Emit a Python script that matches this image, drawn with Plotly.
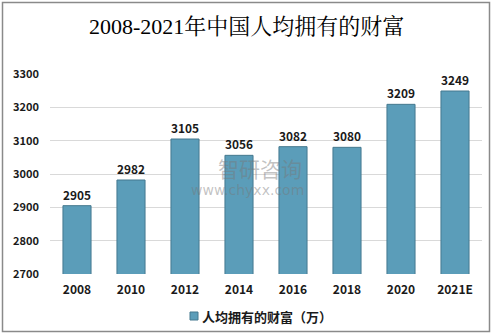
import plotly.graph_objects as go

categories = ["2008", "2010", "2012", "2014", "2016", "2018", "2020", "2021E"]
values = [2905, 2982, 3105, 3056, 3082, 3080, 3209, 3249]
series_name = "人均拥有的财富（万）"
title_text = "2008-2021年中国人均拥有的财富"
y_ticks = [2700, 2800, 2900, 3000, 3100, 3200, 3300]

W, H = 493, 335
L, R, T, B = 50, 11, 74, 61
pw, ph = W - L - R, H - T - B

def px(x):
    return (x - L) / pw

def py(y):
    return (H - B - y) / ph

font_cjk = "Noto Sans CJK SC, Microsoft YaHei, sans-serif"
bar_color = "#5b9db9"
bar_line = "#45798f"

fig = go.Figure()
fig.add_trace(go.Bar(
    x=categories, y=values, name=series_name,
    marker=dict(color=bar_color, line=dict(color=bar_line, width=1)),
    text=[str(v) for v in values], textposition="outside",
    textfont=dict(family=font_cjk, size=12, color="#1a1a1a", weight="bold"),
    cliponaxis=False,
    showlegend=False,
))

fig.update_layout(
    width=W, height=H,
    margin=dict(l=L, r=R, t=T, b=B, autoexpand=False),
    paper_bgcolor="white", plot_bgcolor="white",
    bargap=0.48,
    showlegend=False,
    xaxis=dict(showgrid=False, showline=False, ticks="", ticklabelstandoff=7,
               tickfont=dict(family=font_cjk, size=12, color="#1a1a1a", weight="bold")),
    yaxis=dict(range=[2700, 3300], tickvals=y_ticks, showgrid=True, gridcolor="#d9d9d9",
               gridwidth=1, zeroline=False, showline=False, ticks="", ticklabelstandoff=10,
               tickfont=dict(family=font_cjk, size=11, color="#1a1a1a", weight="bold")),
    font=dict(family=font_cjk),
)

fig.add_annotation(text=title_text, xref="paper", yref="paper", x=px(246), y=py(27),
                   xanchor="center", yanchor="middle", showarrow=False,
                   font=dict(family="Liberation Serif, Noto Serif CJK SC, Noto Sans CJK SC, serif",
                             size=22, color="#000000"))

# legend (drawn manually to match the small square key)
fig.add_shape(type="rect", xref="paper", yref="paper",
              x0=px(190), x1=px(198), y0=py(320), y1=py(312),
              fillcolor=bar_color, line=dict(color=bar_line, width=1))
fig.add_annotation(text=series_name, xref="paper", yref="paper", x=px(200), y=py(316),
                   xanchor="left", yanchor="middle", showarrow=False,
                   font=dict(family=font_cjk, size=13, color="#1a1a1a", weight="bold"))

# watermark
fig.add_annotation(text="智研咨询", xref="paper", yref="paper", x=px(260), y=py(168),
                   xanchor="center", yanchor="middle", showarrow=False,
                   font=dict(family=font_cjk, size=21, color="rgba(120,120,120,0.45)"))
fig.add_annotation(text="www.chyxx.com", xref="paper", yref="paper", x=px(247), y=py(190),
                   xanchor="center", yanchor="middle", showarrow=False,
                   font=dict(family="DejaVu Sans, sans-serif", size=14, color="rgba(120,120,120,0.45)"))

# outer border
fig.add_shape(type="rect", xref="paper", yref="paper",
              x0=px(2.5), x1=px(489.5), y0=py(331.5), y1=py(2.5),
              line=dict(color="#8a8a8a", width=1.5), layer="above")

fig.write_html("out.html")
